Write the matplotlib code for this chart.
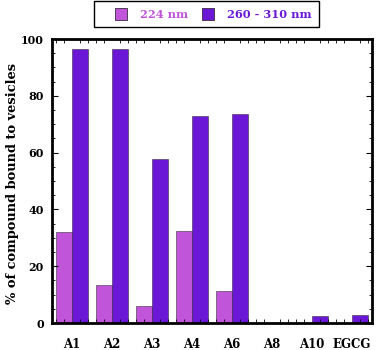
import matplotlib
matplotlib.use("Agg")
import matplotlib.pyplot as plt
import numpy as np
from matplotlib.lines import Line2D
from matplotlib.patches import Rectangle
from matplotlib.ticker import MultipleLocator

plt.rcParams["font.family"] = ["DejaVu Serif"]
plt.rcParams["font.weight"] = "bold"

compounds = ["A1", "A2", "A3", "A4", "A6", "A8", "A10", "EGCG"]
bound_224 = [32.2, 13.3, 6.0, 32.3, 11.3, 0.0, 0.0, 0.0]
bound_260_310 = [96.5, 96.5, 57.8, 73.0, 73.7, 0.0, 2.4, 2.9]
series_labels = ["224 nm", "260 - 310 nm"]

C_LIGHT = "#c155d9"
C_DARK = "#6a17d6"
EDGE = "#3a2a40"
W, H = 378, 350

fig = plt.figure(figsize=(W / 100, H / 100), dpi=100)
ax = fig.add_axes([52 / W, 27 / H, 320 / W, 284 / H])

x = np.arange(len(compounds))
w = 0.4
ax.bar(x - w / 2, bound_224, w, color=C_LIGHT, edgecolor=EDGE,
       linewidth=0.4)
ax.bar(x + w / 2, bound_260_310, w, color=C_DARK, edgecolor=EDGE,
       linewidth=0.4)

ax.set_xlim(-0.5, len(compounds) - 0.5)
ax.set_ylim(0, 100)
ax.set_xticks(x)
ax.set_xticklabels(compounds, fontsize=8.5, fontweight="bold")
ax.xaxis.set_minor_locator(MultipleLocator(0.2))
ax.yaxis.set_major_locator(MultipleLocator(20))
ax.yaxis.set_minor_locator(MultipleLocator(5))
ax.tick_params(axis="both", which="both", direction="in", top=True, right=True)
ax.tick_params(axis="x", which="major", length=0, pad=11)
ax.tick_params(axis="x", which="minor", length=3, width=0.6)
ax.tick_params(axis="y", which="major", length=4, width=0.8, labelsize=8,
               pad=6)
ax.tick_params(axis="y", which="minor", length=2, width=0.6)
for lbl in ax.get_yticklabels():
    lbl.set_fontweight("bold")
for s in ax.spines.values():
    s.set_linewidth(2.0)

ax.set_ylabel("% of compound bound to vesicles", fontsize=9.4,
              fontweight="bold")
ax.yaxis.set_label_coords(-33 / 320, 0.49)

# legend: frameless entries + a hand-placed box (reference padding is uneven)
handles = [
    Line2D([], [], linestyle="none", marker="s", markersize=8.5,
           markerfacecolor=C_LIGHT, markeredgecolor=EDGE, markeredgewidth=0.6),
    Line2D([], [], linestyle="none", marker="s", markersize=8.5,
           markerfacecolor=C_DARK, markeredgecolor=EDGE, markeredgewidth=0.6),
]
leg = fig.legend(handles, series_labels, loc="center left",
                 bbox_to_anchor=(100 / W, 1 - 14 / H), ncol=2,
                 frameon=False, prop={"size": 8.2, "weight": "bold"},
                 handlelength=2.0, columnspacing=0.8,
                 handletextpad=0.67, borderpad=0.3)
leg.get_texts()[0].set_color(C_LIGHT)
leg.get_texts()[1].set_color(C_DARK)
fig.patches.append(Rectangle((94 / W, 1 - 27 / H), 225 / W, 26 / H,
                             transform=fig.transFigure, fill=False,
                             edgecolor="black", linewidth=1.0))

fig.savefig("out.png", dpi=100)
